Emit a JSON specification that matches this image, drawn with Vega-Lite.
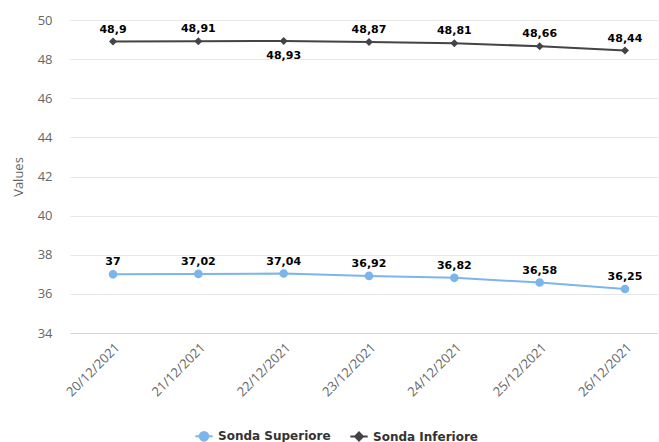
{
  "$schema": "https://vega.github.io/schema/vega-lite/v6.json",
  "width": 588,
  "height": 313,
  "padding": {"left": 12, "top": 14, "right": 0, "bottom": 0},
  "background": "#ffffff",
  "config": {
    "view": {"stroke": null},
    "locale": {"number": {"decimal": ",", "thousands": ".", "grouping": [3], "currency": ["€", ""]}},
    "axis": {"labelFont": "Open Sans", "titleFont": "Open Sans"},
    "legend": {
      "orient": "none",
      "direction": "horizontal",
      "legendX": 124,
      "legendY": 406,
      "labelFont": "DejaVu Sans",
      "labelFontWeight": "bold",
      "labelFontSize": 12,
      "labelColor": "#333333",
      "symbolSize": 300,
      "symbolStrokeWidth": 2,
      "columnPadding": 15,
      "title": null
    }
  },
  "data": {
    "values": [
      {"date": "2021-12-20", "series": "Sonda Superiore", "value": 37},
      {"date": "2021-12-21", "series": "Sonda Superiore", "value": 37.02},
      {"date": "2021-12-22", "series": "Sonda Superiore", "value": 37.04},
      {"date": "2021-12-23", "series": "Sonda Superiore", "value": 36.92},
      {"date": "2021-12-24", "series": "Sonda Superiore", "value": 36.82},
      {"date": "2021-12-25", "series": "Sonda Superiore", "value": 36.58},
      {"date": "2021-12-26", "series": "Sonda Superiore", "value": 36.25},
      {"date": "2021-12-20", "series": "Sonda Inferiore", "value": 48.9},
      {"date": "2021-12-21", "series": "Sonda Inferiore", "value": 48.91},
      {"date": "2021-12-22", "series": "Sonda Inferiore", "value": 48.93},
      {"date": "2021-12-23", "series": "Sonda Inferiore", "value": 48.87},
      {"date": "2021-12-24", "series": "Sonda Inferiore", "value": 48.81},
      {"date": "2021-12-25", "series": "Sonda Inferiore", "value": 48.66},
      {"date": "2021-12-26", "series": "Sonda Inferiore", "value": 48.44}
    ]
  },
  "encoding": {
    "x": {
      "field": "date",
      "type": "temporal",
      "scale": {
        "type": "utc",
        "domain": [
          {"year": 2021, "month": 12, "date": 19, "hours": 11, "minutes": 54, "utc": true},
          {"year": 2021, "month": 12, "date": 26, "hours": 9, "minutes": 17, "utc": true}
        ]
      },
      "axis": {
        "title": null,
        "format": "%d/%m/%Y",
        "tickCount": {"interval": "day", "step": 1},
        "labelAngle": -45,
        "labelFontSize": 13,
        "labelColor": "#666666",
        "labelPadding": 8,
        "ticks": false,
        "grid": false,
        "domainColor": "#ccd6eb",
        "domainWidth": 1
      }
    },
    "y": {
      "field": "value",
      "type": "quantitative",
      "scale": {"domain": [34, 50], "nice": false, "zero": false},
      "axis": {
        "title": "Values",
        "titleColor": "#666666",
        "titleFontSize": 13,
        "titleFontWeight": "normal",
        "titlePadding": 12,
        "values": [34, 36, 38, 40, 42, 44, 46, 48, 50],
        "labelFontSize": 13,
        "labelColor": "#666666",
        "labelPadding": 18,
        "ticks": false,
        "domain": false,
        "gridColor": "#e6e6e6",
        "format": "d"
      }
    },
    "color": {
      "field": "series",
      "type": "nominal",
      "scale": {"domain": ["Sonda Superiore", "Sonda Inferiore"], "range": ["#7cb5ec", "#434348"]},
      "legend": {
        "encode": {
          "symbols": {
            "update": {
              "stroke": {"scale": "color", "field": "value"},
              "strokeWidth": {"value": 2}
            }
          }
        }
      }
    }
  },
  "layer": [
    {
      "mark": {"type": "line", "strokeWidth": 2}
    },
    {
      "mark": {"type": "point", "filled": true, "opacity": 1, "size": 300, "strokeWidth": 0},
      "encoding": {
        "shape": {
          "field": "series",
          "type": "nominal",
          "scale": {
            "domain": ["Sonda Superiore", "Sonda Inferiore"],
            "range": [
              "M-1,0L1,0M-0.5,0A0.5,0.5,0,1,0,0.5,0A0.5,0.5,0,1,0,-0.5,0Z",
              "M-1,0L1,0M0,-0.46L0.46,0L0,0.46L-0.46,0Z"
            ]
          },
          "legend": {
            "encode": {
              "symbols": {
                "update": {
                  "stroke": {"scale": "color", "field": "value"},
                  "strokeWidth": {"value": 2}
                }
              }
            }
          }
        }
      }
    },
    {
      "transform": [{"filter": "!(datum.series === 'Sonda Inferiore' && utcdate(datum.date) === 22)"}],
      "mark": {"type": "text", "font": "DejaVu Sans", "fontWeight": "bold", "fontSize": 11, "dy": -9, "baseline": "alphabetic"},
      "encoding": {
        "text": {"field": "value", "type": "quantitative", "format": ".2~f"},
        "color": {"value": "#000000"}
      }
    },
    {
      "transform": [{"filter": "datum.series === 'Sonda Inferiore' && utcdate(datum.date) === 22"}],
      "mark": {"type": "text", "font": "DejaVu Sans", "fontWeight": "bold", "fontSize": 11, "dy": 18, "baseline": "alphabetic"},
      "encoding": {
        "text": {"field": "value", "type": "quantitative", "format": ".2~f"},
        "color": {"value": "#000000"}
      }
    }
  ]
}
